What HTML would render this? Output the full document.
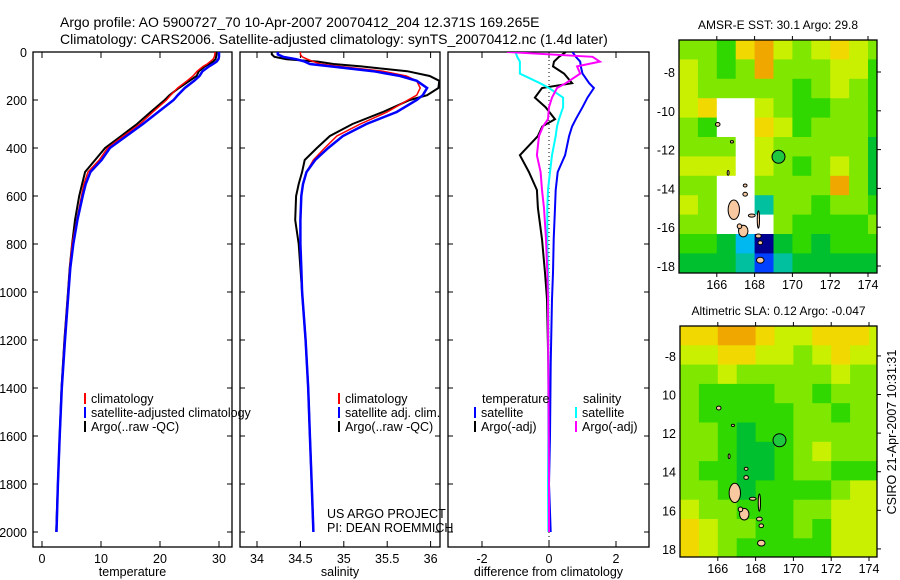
<!DOCTYPE html>
<html><head><meta charset="utf-8"><style>
body{margin:0;background:#fff}
svg{display:block;font-family:"Liberation Sans",sans-serif}
</style></head><body>
<svg id="fig" width="900" height="580" viewBox="0 0 900 580">
<text x="60" y="27" font-size="14">Argo profile: AO 5900727_70 10-Apr-2007 20070412_204 12.371S 169.265E</text>
<text x="60" y="44" font-size="14">Climatology: CARS2006. Satellite-adjusted climatology: synTS_20070412.nc (1.4d later)</text>
<defs>
<clipPath id="c1"><rect x="33" y="52" width="199" height="495"/></clipPath>
<clipPath id="c2"><rect x="240" y="52" width="200" height="495"/></clipPath>
<clipPath id="c3"><rect x="448" y="52" width="201" height="495"/></clipPath>
<clipPath id="m1"><rect x="679" y="40" width="198" height="233"/></clipPath>
<clipPath id="m2"><rect x="680" y="326" width="197" height="231"/></clipPath>
</defs>
<g id="root"></g>
</svg>
<script>
// ---- profile data ----
const depth=[0,10,20,30,40,50,60,80,100,120,150,180,200,250,300,350,400,450,500,550,600,700,800,900,1000,1200,1400,1600,1800,2000];
const tempClim=[29.3,29.3,29.2,29.0,28.5,28.0,27.3,26.3,25.6,24.6,23.0,21.8,21.1,18.8,16.6,13.8,11.1,9.7,7.8,7.1,6.7,5.9,5.1,4.7,4.4,3.8,3.3,3.0,2.7,2.4];
const tempSat=[30.0,30.0,30.0,29.9,29.6,29.0,28.3,27.2,26.7,25.8,24.2,23.0,22.3,19.7,17.1,14.3,11.5,10.1,8.2,7.4,6.9,6.0,5.3,4.8,4.5,3.9,3.35,3.0,2.7,2.45];
const tempArgo=[29.6,29.6,29.5,29.4,29.0,28.3,27.6,26.6,26.2,25.0,23.2,21.6,20.8,18.4,16.1,13.4,10.7,9.0,7.3,6.8,6.3,5.6,5.1,4.7,4.4,3.8,3.3,3.0,2.7,2.4];
const salClim=[34.5,34.5,34.52,34.58,34.65,34.73,34.95,35.45,35.72,35.84,35.88,35.84,35.74,35.5,35.19,34.92,34.78,34.65,34.57,34.53,34.51,34.5,34.5,34.51,34.52,34.56,34.59,34.61,34.63,34.65];
const salSat=[34.24,34.24,34.3,34.45,34.55,34.61,34.85,35.34,35.65,35.84,35.96,35.91,35.84,35.61,35.26,34.99,34.82,34.67,34.57,34.53,34.51,34.5,34.5,34.51,34.52,34.56,34.59,34.61,34.63,34.65];
const salArgo=[34.17,34.17,34.2,34.34,34.7,34.88,35.2,35.73,35.99,36.1,36.09,35.96,35.76,35.45,35.1,34.84,34.69,34.55,34.52,34.48,34.45,34.44,34.48,34.5,34.52,34.56,34.59,34.61,34.63,34.65];
const diffDepth=[0,20,40,60,90,130,150,190,230,280,310,350,430,500,575,650,780,920,1030,1300,1600,1800,2000];
const tDiffSat=[0.7,0.8,0.93,0.95,1.0,1.2,1.34,1.15,1.0,0.8,0.69,0.6,0.48,0.26,0.2,0.18,0.14,0.12,0.09,0.05,0.03,0.0,0.05];
const tDiffArgo=[0.5,0.3,0.15,0.12,0.45,0.69,-0.21,-0.42,-0.1,0.18,-0.2,-0.33,-0.87,-0.6,-0.36,-0.33,-0.21,-0.12,-0.06,-0.02,0,0,0];
const sDiffSat=[-1.0,-0.95,-0.87,-0.87,-0.87,-0.27,0.0,0.42,0.42,0.3,0.24,0.2,0.09,0.03,-0.03,-0.05,-0.05,-0.03,-0.02,-0.02,-0.02,-0.03,-0.02];
const sDiffArgo=[-1.25,1.3,1.52,0.84,0.93,0.5,0.24,0.09,0.0,-0.03,-0.18,-0.3,-0.36,-0.25,-0.21,-0.15,-0.09,-0.05,-0.03,-0.02,-0.01,0,0];
const depthTicks=[0,200,400,600,800,1000,1200,1400,1600,1800,2000];
const tempTicks=[0,10,20,30];
const salTicks=[34,34.5,35,35.5,36];
const diffTicks=[-2,0,2];
// ---- map data (colour class per 1-degree cell, -1 = no data) ----
const sstGrid=[
[6,6,5,8,9,7,6,7,8,7,6],
[7,6,5,6,9,6,6,6,7,7,5],
[7,6,6,6,6,6,5,6,7,6,5],
[7,8,-1,-1,7,6,5,5,6,6,5],
[6,5,-1,-1,8,7,5,6,6,6,5],
[6,6,6,-1,7,6,6,6,6,6,4],
[7,7,7,-1,7,6,5,6,7,6,4],
[6,6,-1,-1,6,6,6,6,9,6,4],
[7,6,-1,-1,3,6,6,5,6,6,5],
[6,6,-1,-1,-1,6,5,5,5,5,6],
[5,5,4,2,0,4,5,4,5,5,5],
[4,4,4,3,1,3,4,4,4,4,4]];
const slaGrid=[
[8,8,9,9,8,7,7,8,8,8,7],
[7,7,8,8,7,7,6,7,8,7,7],
[6,6,7,6,6,6,6,6,7,6,6],
[6,5,5,5,5,6,6,5,6,6,6],
[6,5,5,5,5,5,6,6,5,6,6],
[6,6,5,4,5,5,6,6,6,6,6],
[6,6,5,4,4,5,6,7,6,6,6],
[6,5,5,4,4,5,6,6,5,5,5],
[6,6,5,4,5,5,5,5,6,7,7],
[7,6,6,5,5,5,6,6,7,7,7],
[8,7,6,6,5,5,6,5,7,7,7],
[8,7,6,5,5,5,5,5,7,7,7]];
const lonTicks=[166,168,170,172,174];
const latTicks=[-8,-10,-12,-14,-16,-18];
const floatLon=169.265, floatLat=-12.371;
const islands=[[166.9,-15.1,0.3,0.5],[167.4,-16.2,0.25,0.3],[167.2,-15.95,0.12,0.12],[168.3,-17.7,0.2,0.15],[167.85,-15.4,0.18,0.08],[168.2,-15.6,0.06,0.45],[167.5,-14.3,0.12,0.1],[167.5,-13.85,0.1,0.08],[166.6,-13.2,0.05,0.12],[168.2,-16.45,0.15,0.1],[168.3,-16.8,0.12,0.1],[166.05,-10.7,0.12,0.1],[166.8,-11.6,0.08,0.06]];
const palette=['#000090','#0040ff','#00b8f0','#00c0a0','#00c030','#30d800','#80e800','#c8f000','#f0d800','#f0a800'];

const NS='http://www.w3.org/2000/svg';
const root=document.getElementById('root');
function mk(tag,attrs,parent){const e=document.createElementNS(NS,tag);for(const k in attrs)e.setAttribute(k,attrs[k]);(parent||root).appendChild(e);return e;}
const yD=d=>52+d*0.24;
const xT=v=>42+v*5.9;
const xS=v=>257+(v-34)*86.8;
const xDf=v=>549+v*33.5;

function panel(x0,x1,ticks,xf,label,name,tickLabelsY){
  const g=mk('g',{});
  
  
  const r=mk('rect',{x:x0,y:52,width:x1-x0,height:495,fill:'none',stroke:'#000','stroke-width':1.3},g);
  
  
  ticks.forEach(t=>{const x=xf(t);
    mk('line',{x1:x,x2:x,y1:547,y2:541,stroke:'#000'},g);
    mk('line',{x1:x,x2:x,y1:52,y2:58,stroke:'#000'},g);
    const tx=mk('text',{x:x,y:563,'font-size':12.5,'text-anchor':'middle'},g);tx.textContent=String(t);
    
    });
  depthTicks.forEach(d=>{const y=yD(d);
    mk('line',{x1:x0,x2:x0+5,y1:y,y2:y,stroke:'#000'},g);
    mk('line',{x1:x1,x2:x1-5,y1:y,y2:y,stroke:'#000'},g);
    if(tickLabelsY){const tx=mk('text',{x:x0-6,y:y+5,'font-size':12.5,'text-anchor':'end'},g);tx.textContent=String(d);
      
      }});
  const lb=mk('text',{x:(x0+x1)/2,y:576,'font-size':12.5,'text-anchor':'middle'},g);lb.textContent=label;
  
  
}
function line(vals,deps,xf,col,w,clip,name){
  const pts=vals.map((v,i)=>xf(v).toFixed(1)+','+yD(deps[i]).toFixed(1)).join(' ');
  const p=mk('polyline',{points:pts,fill:'none',stroke:col,'stroke-width':w,'clip-path':'url(#'+clip+')'});
  
  
}
panel(33,232,tempTicks,xT,'temperature','temperature-panel',true);
panel(240,440,salTicks,xS,'salinity','salinity-panel',false);
panel(448,649,diffTicks,xDf,'difference from climatology','difference-panel',false);
line(tempArgo,depth,xT,'#000',2,'c1','temp-argo-line');
line(tempClim,depth,xT,'#f00',1.5,'c1','temp-climatology-line');
line(tempSat,depth,xT,'#00f',2.5,'c1','temp-satellite-line');
line(salArgo,depth,xS,'#000',2,'c2','sal-argo-line');
line(salClim,depth,xS,'#f00',1.5,'c2','sal-climatology-line');
line(salSat,depth,xS,'#00f',2.5,'c2','sal-satellite-line');
const zl=mk('line',{x1:xDf(0),x2:xDf(0),y1:52,y2:547,stroke:'#000','stroke-dasharray':'1,3'});


line(tDiffArgo,diffDepth,xDf,'#000',2,'c3','temp-diff-argo-line');
line(tDiffSat,diffDepth,xDf,'#00f',2,'c3','temp-diff-satellite-line');
line(sDiffSat,diffDepth,xDf,'#0ff',2,'c3','sal-diff-satellite-line');
line(sDiffArgo,diffDepth,xDf,'#f0f',2,'c3','sal-diff-argo-line');

function legend(x,y,col,txt,name){
  const m=mk('rect',{x:x,y:y-10,width:2,height:11,fill:col});
  
  
  const t=mk('text',{x:x+7,y:y,'font-size':12.5});t.textContent=txt;
  
  
}
legend(84,403,'#f00','climatology','legend-climatology');
legend(84,417,'#00f','satellite-adjusted climatology','legend-satellite-adjusted');
legend(84,431,'#000','Argo(..raw -QC)','legend-argo');
legend(338,403,'#f00','climatology','legend-sal-climatology');
legend(338,417,'#00f','satellite adj. clim.','legend-sal-satellite');
legend(338,431,'#000','Argo(..raw -QC)','legend-sal-argo');
legend(474,417,'#00f','satellite','legend-diff-temp-satellite');
legend(474,431,'#000','Argo(-adj)','legend-diff-temp-argo');
legend(575,417,'#0ff','satellite','legend-diff-sal-satellite');
legend(575,431,'#f0f','Argo(-adj)','legend-diff-sal-argo');
function txt(x,y,s,name,extra){const t=mk('text',Object.assign({x:x,y:y,'font-size':12.5},extra||{}));t.textContent=s;
  
  return t;}
txt(482,403,'temperature','legend-header-temperature');
txt(583,403,'salinity','legend-header-salinity');
txt(327,518,'US ARGO PROJECT','project-credit');
txt(327,532,'PI: DEAN ROEMMICH','pi-credit');

function map(grid,x0,y0,w,h,lat0,ppx,ppy,clip,name,title,latLabels){
  const lx=lon=>x0+(lon-164.0)*ppx;
  const ly=lat=>y0+(lat0-lat)*ppy;
  const g=mk('g',{'clip-path':'url(#'+clip+')'});
  
  
  grid.forEach((row,r)=>row.forEach((v,c)=>{
    const la=lat0-r, lo=164.0+c;
    const cell=mk('rect',{x:lx(lo).toFixed(1),y:ly(la).toFixed(1),width:(ppx+0.6).toFixed(1),height:(ppy+0.6).toFixed(1),fill:v<0?'#fff':palette[v]},g);
    
    
  }));
  islands.forEach(s=>{const e=mk('ellipse',{cx:lx(s[0]),cy:ly(s[1]),rx:s[2]*ppx,ry:s[3]*ppy,fill:'#f8c8a0',stroke:'#000','stroke-width':1},g);
    
    });
  const c=mk('circle',{cx:lx(floatLon),cy:ly(floatLat),r:6.5,fill:'#20c840',stroke:'#000','stroke-width':1},g);
  
  
  const fr=mk('rect',{x:x0,y:y0,width:w,height:h,fill:'none',stroke:'#000','stroke-width':1.3});
  
  
  lonTicks.forEach(t=>{const x=lx(t);
    mk('line',{x1:x,x2:x,y1:y0+h,y2:y0+h+4,stroke:'#000'});
    mk('line',{x1:x,x2:x,y1:y0,y2:y0-4,stroke:'#000'});
    txt(x,y0+h+16,String(t),'lon-tick-label',{'text-anchor':'middle'});});
  latTicks.forEach((t,i)=>{const y=ly(t);
    mk('line',{x1:x0+w,x2:x0+w+4,y1:y,y2:y,stroke:'#000'});
    txt(x0-4,y+5,latLabels[i],'lat-tick-label',{'text-anchor':'end'});});
  txt(x0+w/2,y0-11,title,name+'-title',{'text-anchor':'middle','font-size':12});
}
map(sstGrid,679,40,198,233,-6.35,18.9,19.4,'m1','sst-map','AMSR-E SST: 30.1 Argo: 29.8',['-8','-10','-12','-14','-16','-18']);
map(slaGrid,680,326,197,231,-6.45,18.9,19.3,'m2','sla-map','Altimetric SLA: 0.12  Argo: -0.047',['-8','10','12','14','16','18']);
txt(0,0,'CSIRO 21-Apr-2007 10:31:31','timestamp',{transform:'translate(896,432) rotate(-90)','text-anchor':'middle','font-size':12.5});
</script>
</body></html>
